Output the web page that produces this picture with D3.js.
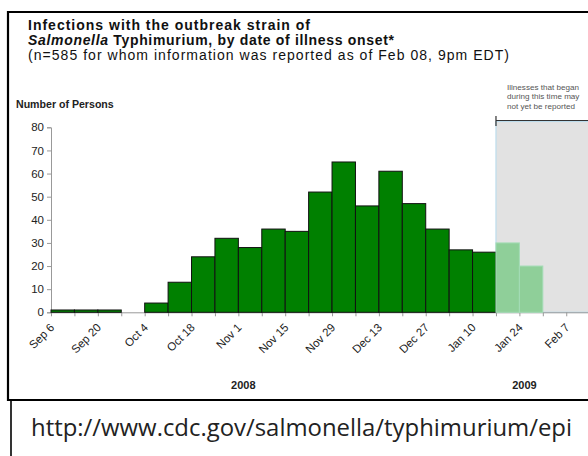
<!DOCTYPE html>
<html>
<head>
<meta charset="utf-8">
<script src="https://cdn.jsdelivr.net/npm/d3@7"></script>
<style>
  body { margin: 0; background: #fff; }
  svg { display: block; font-family: "Liberation Sans", Arial, sans-serif; }
</style>
</head>
<body>
<div id="chart-area"></div>
<script>
// weekly counts by date of illness onset
let weeks = ["Sep 6", "Sep 13", "Sep 20", "Sep 27", "Oct 4", "Oct 11", "Oct 18", "Oct 25",
             "Nov 1", "Nov 8", "Nov 15", "Nov 22", "Nov 29", "Dec 6", "Dec 13", "Dec 20",
             "Dec 27", "Jan 3", "Jan 10", "Jan 17", "Jan 24", "Jan 31", "Feb 7", "Feb 14"];
let cases = [1, 1, 1, 0, 4, 13, 24, 32, 28, 36, 35, 52, 65, 46, 61, 47, 36, 27, 26, 30, 20, 0, 0, 0];
// weeks that may not yet be fully reported
let lateWeeks = ["Jan 17", "Jan 24", "Jan 31", "Feb 7", "Feb 14"];
let labelWeeks = ["Sep 6", "Sep 20", "Oct 4", "Oct 18", "Nov 1", "Nov 15", "Nov 29",
                  "Dec 13", "Dec 27", "Jan 10", "Jan 24", "Feb 7"];
let yTicks = [0, 10, 20, 30, 40, 50, 60, 70, 80];
let years = [{label: "2008", week: "Nov 1"}, {label: "2009", week: "Jan 24"}];

let data = weeks.map(function(w, i){ return {week: w, n: cases[i]}; });

let svg = d3.select('#chart-area')
            .append('svg')
            .attr('width', 588)
            .attr('height', 456);

let step = 23.42;
let x0 = 51;
let x = d3.scaleBand()
        .domain(weeks)
        .range([x0, x0 + step * weeks.length])
        .paddingInner(0)
        .paddingOuter(0);
// tick positions sit on the week boundaries
let xTick = d3.scalePoint()
        .domain(weeks)
        .range([x0, x0 + step * (weeks.length - 1)]);
let y = d3.scaleLinear()
        .domain([0, 80])
        .range([312.3, 127.3]);

// frame
svg.append("path")
   .attr("d", "M8,401 L8,12 L600,12 M7,400 L600,400")
   .attr("fill", "none")
   .attr("stroke", "#000")
   .attr("stroke-width", 2.2);
svg.append("line")
   .attr("x1", 11).attr("x2", 11)
   .attr("y1", 401).attr("y2", 460)
   .attr("stroke", "#000")
   .attr("stroke-width", 1.6);

// titles
svg.append("text")
   .attr("x", 28).attr("y", 30)
   .attr("font-size", 14)
   .attr("font-weight", "bold")
   .attr("fill", "#111")
   .attr("textLength", 282)
   .attr("lengthAdjust", "spacing")
   .text("Infections with the outbreak strain of");
let t2 = svg.append("text")
   .attr("x", 28).attr("y", 45)
   .attr("font-size", 14)
   .attr("font-weight", "bold")
   .attr("fill", "#111")
   .attr("textLength", 366)
   .attr("lengthAdjust", "spacing");
t2.append("tspan").attr("font-style", "italic").text("Salmonella");
t2.append("tspan").text(" Typhimurium, by date of illness onset*");
svg.append("text")
   .attr("x", 28).attr("y", 59.5)
   .attr("font-size", 14)
   .attr("fill", "#111")
   .attr("textLength", 481)
   .attr("lengthAdjust", "spacing")
   .text("(n=585 for whom information was reported as of Feb 08, 9pm EDT)");

svg.append("text")
   .attr("x", 16).attr("y", 107.5)
   .attr("font-size", 10.6)
   .attr("font-weight", "bold")
   .attr("fill", "#222")
   .text("Number of Persons");

// shaded "not yet reported" region
let lateStart = x(lateWeeks[0]);
svg.append("rect")
   .attr("x", lateStart)
   .attr("y", 121.5)
   .attr("width", 620 - lateStart)
   .attr("height", y(0) - 121.5)
   .attr("fill", "#e2e2e2")
   .attr("stroke", "#bcdcec")
   .attr("stroke-width", 1.2);
svg.append("path")
   .attr("d", "M" + lateStart + ",116 V126 M" + lateStart + ",120.5 H600")
   .attr("stroke", "#333")
   .attr("stroke-width", 1.2)
   .attr("fill", "none");
let note = svg.append("text")
   .attr("font-size", 8.1)
   .attr("fill", "#555");
["Illnesses that began", "during this time may", "not yet be reported"].forEach(function(s, i){
    note.append("tspan").attr("x", 507).attr("y", 89.5 + i * 9.6).text(s);
});

// y axis
let yAxis = svg.append("g")
   .attr("transform", "translate(" + x0 + ",0)")
   .call(d3.axisLeft(y).tickValues(yTicks).tickSize(4).tickPadding(3));
yAxis.select(".domain").attr("stroke", "#999");
yAxis.selectAll(".tick line").attr("stroke", "#999");
yAxis.selectAll("text")
     .attr("font-size", 11.5)
     .attr("font-family", "Liberation Sans, Arial, sans-serif")
     .attr("fill", "#222");

// x axis
let xAxis = svg.append("g")
   .attr("transform", "translate(0," + y(0) + ")")
   .call(d3.axisBottom(xTick).tickSize(4).tickSizeOuter(0).tickFormat(""));
xAxis.select(".domain").attr("stroke", "#999");
xAxis.selectAll(".tick line").attr("stroke", "#999");

svg.append("g").selectAll("text")
   .data(labelWeeks)
   .enter()
   .append("text")
   .attr("transform", function(d){
       return "translate(" + (xTick(d) + 4) + "," + (y(0) + 16) + ") rotate(-45)";
   })
   .attr("text-anchor", "end")
   .attr("font-size", 11.5)
   .attr("fill", "#222")
   .text(function(d){ return d; });

svg.append("g").selectAll("text")
   .data(years)
   .enter()
   .append("text")
   .attr("x", function(d){ return xTick(d.week) + 5; })
   .attr("y", 389)
   .attr("text-anchor", "middle")
   .attr("font-size", 11)
   .attr("font-weight", "bold")
   .attr("fill", "#222")
   .text(function(d){ return d.label; });

// bars
svg.append("g").selectAll("rect")
   .data(data.filter(function(d){ return d.n > 0; }))
   .enter()
   .append("rect")
   .attr("x", function(d){ return x(d.week); })
   .attr("y", function(d){ return y(d.n); })
   .attr("width", x.bandwidth())
   .attr("height", function(d){ return y(0) - y(d.n); })
   .attr("fill", function(d){
       return lateWeeks.indexOf(d.week) >= 0 ? "#8fcf99" : "#008000";
   })
   .attr("stroke", function(d){
       return lateWeeks.indexOf(d.week) >= 0 ? "#a4dcb6" : "#111";
   })
   .attr("stroke-width", 1);

// source line
svg.append("text")
   .attr("x", 31).attr("y", 436)
   .attr("font-family", "Open Sans, sans-serif")
   .attr("font-size", 23.9)
   .attr("fill", "#222")
   .text("http://www.cdc.gov/salmonella/typhimurium/epi");
</script>
</body>
</html>
